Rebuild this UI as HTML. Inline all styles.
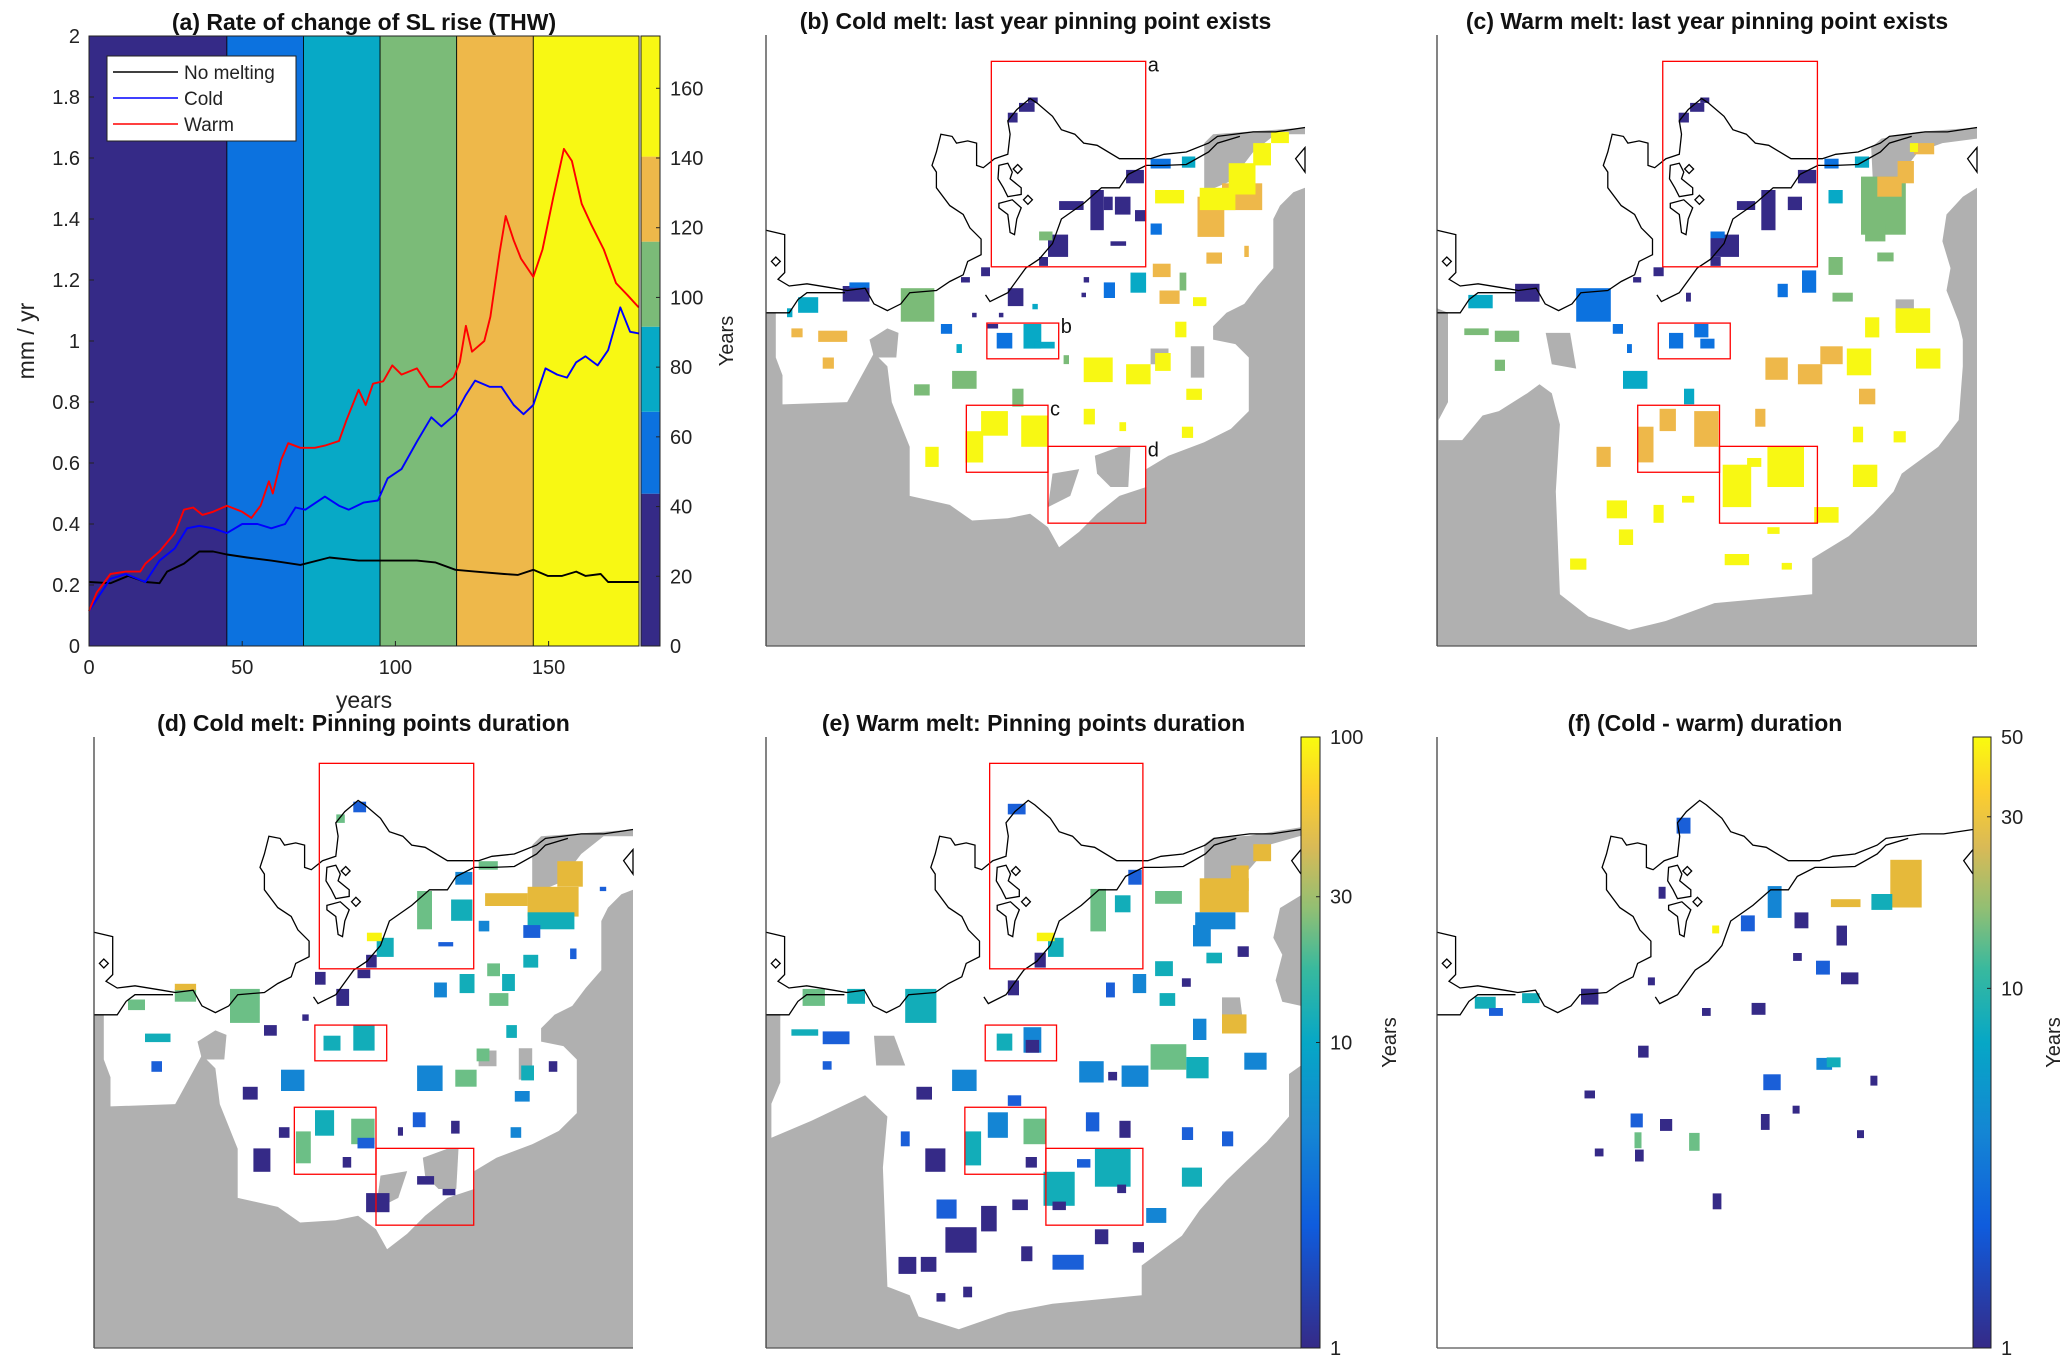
<!DOCTYPE html>
<html><head><meta charset="utf-8"><style>
html,body{margin:0;padding:0;background:#fff;}
svg{display:block;font-family:"Liberation Sans","DejaVu Sans",sans-serif;}
</style></head><body>
<svg id="fig" width="2067" height="1367" viewBox="0 0 2067 1367" xmlns="http://www.w3.org/2000/svg"></svg>
<script>
// ---------- Panel (a) data ----------
const years = [0,2.5,7,12,16.7,18.4,23,28,31,34,37,40.5,45,50,53,56,58.7,60,62.7,65,69,73.7,77,81.6,84,88,90.3,92.7,96,99,102,107,111,115,119,121,123,125,129,131,134,136,138.6,141,145,148,151.5,155,157.6,160.8,164,168,172,175.8,179.4];
const warm = [0.115,0.175,0.236,0.244,0.244,0.27,0.31,0.37,0.447,0.454,0.43,0.44,0.46,0.44,0.42,0.46,0.54,0.50,0.61,0.665,0.65,0.65,0.657,0.672,0.74,0.84,0.79,0.86,0.868,0.92,0.89,0.91,0.85,0.85,0.88,0.93,1.05,0.965,1.0,1.08,1.29,1.41,1.33,1.27,1.21,1.30,1.47,1.63,1.59,1.45,1.38,1.30,1.19,1.15,1.11];
const coldYears = [0,7,12,18.4,23,28,32,36,40.5,45,50,55,59.5,64,67.4,70.6,77,81.6,84.8,89.6,94.3,97.5,102,107,111.7,115,119.6,122.8,126,130.7,134.6,138.6,141.8,145,149,152.8,156,159,162,166,169.4,173.4,176.6,179.4];
const cold = [0.115,0.22,0.236,0.21,0.28,0.32,0.386,0.394,0.386,0.37,0.40,0.40,0.386,0.40,0.454,0.447,0.49,0.46,0.447,0.47,0.477,0.55,0.58,0.67,0.75,0.72,0.76,0.82,0.87,0.85,0.85,0.79,0.76,0.79,0.91,0.89,0.88,0.93,0.95,0.92,0.97,1.11,1.03,1.025];
const noMeltYears = [0,7,12.8,18.4,23,25.5,31,36,40.5,45,51.6,59.5,69,78.5,88,97.5,107,113,119.6,126,135.5,140,145,149.7,154.4,159,162,167,169.4,175,179.4];
const noMelt = [0.21,0.206,0.23,0.21,0.206,0.244,0.27,0.31,0.31,0.30,0.29,0.28,0.266,0.29,0.28,0.28,0.28,0.274,0.25,0.244,0.236,0.233,0.25,0.23,0.23,0.244,0.23,0.236,0.21,0.21,0.21];
const periodEdges = [0,45,70,95,120,145,179.5];
const periodColors = ["#352a87","#0c72df","#07a9c6","#7bbb78","#eeb84a","#f8f813"];
const yTicks = [0,0.2,0.4,0.6,0.8,1,1.2,1.4,1.6,1.8,2];
const yTickLabels = ["0","0.2","0.4","0.6","0.8","1","1.2","1.4","1.6","1.8","2"];
const xTicks = [0,50,100,150];
const cbTicks = [0,20,40,60,80,100,120,140,160];
const cbEdges = [0,43.7,67.2,91.6,116,140.4,175];

const NS="http://www.w3.org/2000/svg";
const svg=document.getElementById('fig');
function el(tag,attrs,parent){const e=document.createElementNS(NS,tag);for(const k in attrs)e.setAttribute(k,attrs[k]);(parent||svg).appendChild(e);return e;}
function txt(s,attrs,parent){const t=el('text',attrs,parent);t.textContent=s;return t;}

const AX={l:89,r:639,t:36,b:646,xmax:179.5,ymax:2};
const xA=v=>AX.l+(v/AX.xmax)*(AX.r-AX.l);
const yA=v=>AX.b-(v/AX.ymax)*(AX.b-AX.t);

const ga=el('g',{});


for(let i=0;i<periodColors.length;i++){
  const r=el('rect',{x:xA(periodEdges[i]),y:AX.t,width:xA(periodEdges[i+1])-xA(periodEdges[i]),height:AX.b-AX.t,fill:periodColors[i],stroke:'#000','stroke-width':0.8},ga);
  
  
}
function line(xs,ys,color,name){
  const p=xs.map((x,i)=>xA(x).toFixed(1)+','+yA(ys[i]).toFixed(1)).join(' ');
  const pl=el('polyline',{points:p,fill:'none',stroke:color,'stroke-width':1.9,'stroke-linejoin':'round'},ga);
  
  
}
line(noMeltYears,noMelt,'#000','line-no-melting');
line(coldYears,cold,'#0000ff','line-cold');
line(years,warm,'#ff0000','line-warm');
el('rect',{x:AX.l,y:AX.t,width:AX.r-AX.l,height:AX.b-AX.t,fill:'none',stroke:'#222','stroke-width':1},ga);
yTicks.forEach((v,i)=>{
  el('line',{x1:AX.l,x2:AX.l+5,y1:yA(v),y2:yA(v),stroke:'#222'},ga);
  const t=txt(yTickLabels[i],{x:AX.l-9,y:yA(v)+7,'font-size':20,'text-anchor':'end',fill:'#222'},ga);
  
  
});
xTicks.forEach(v=>{
  el('line',{x1:xA(v),x2:xA(v),y1:AX.b,y2:AX.b-5,stroke:'#222'},ga);
  const t=txt(String(v),{x:xA(v),y:AX.b+28,'font-size':20,'text-anchor':'middle',fill:'#222'},ga);
  
  
});
let t1=txt('years',{x:(AX.l+AX.r)/2,y:708,'font-size':23,'text-anchor':'middle',fill:'#222'},ga);


t1=txt('mm / yr',{x:0,y:0,'font-size':23,'text-anchor':'middle',fill:'#222',transform:'translate(34,341) rotate(-90)'},ga);


t1=txt('(a) Rate of change of SL rise (THW)',{x:(AX.l+AX.r)/2,y:30,'font-size':23,'font-weight':'bold','text-anchor':'middle',fill:'#111'},ga);


const lg=el('g',{},ga);


el('rect',{x:107,y:56,width:189,height:85,fill:'#fff',stroke:'#222','stroke-width':1},lg);
[['No melting','#000'],['Cold','#0000ff'],['Warm','#ff0000']].forEach((e,i)=>{
  const yy=72+i*26;
  el('line',{x1:113,x2:178,y1:yy,y2:yy,stroke:e[1],'stroke-width':1.5},lg);
  const t=txt(e[0],{x:184,y:yy+7,'font-size':19,fill:'#222'},lg);
  
  
});
const CB={l:641,r:660,t:36,b:646,max:175};
const yCB=v=>CB.b-(v/CB.max)*(CB.b-CB.t);
for(let i=0;i<periodColors.length;i++){
  el('rect',{x:CB.l,y:yCB(cbEdges[i+1]),width:CB.r-CB.l,height:yCB(cbEdges[i])-yCB(cbEdges[i+1]),fill:periodColors[i]},ga);
}
el('rect',{x:CB.l,y:CB.t,width:CB.r-CB.l,height:CB.b-CB.t,fill:'none',stroke:'#222'},ga);
cbTicks.forEach(v=>{
  el('line',{x1:CB.r-4,x2:CB.r,y1:yCB(v),y2:yCB(v),stroke:'#222'},ga);
  const t=txt(String(v),{x:CB.r+10,y:yCB(v)+7,'font-size':20,fill:'#222'},ga);
  
  
});
t1=txt('Years',{x:0,y:0,'font-size':20,'text-anchor':'middle',fill:'#222',transform:'translate(733,341) rotate(-90)'},ga);



// ---------- Maps ----------
const GRAY='#b0b0b0';
const catColors=["#352a87","#0c72df","#07a9c6","#7bbb78","#eeb84a","#f8f813"];
const parCols=["#352a87","#1a5fd8","#1485d4","#12adb9","#6cbf86","#e6b93a","#f9f40f"];
const F2=[58,78,1266,1446], F3=[18,78,1345,1446], F4=[58,88,1257,1524], F9=[80,88,1348,1524], FN=[0,0,1000,1000];
const coast=[[58,515],[100,525],[100,610],[85,625],[110,640],[150,635],[210,645],[240,650],[280,645],[300,680],[330,695],[360,680],[380,655],[440,650],[470,630],[500,615],[510,585],[540,570],[540,535],[515,510],[500,480],[470,460],[440,420],[440,385],[430,370],[440,340],[450,300],[475,305],[485,320],[510,315],[530,320],[530,370],[545,375],[570,355],[600,345],[605,300],[600,270],[620,245],[650,220],[665,230],[700,260],[720,290],[750,300],[770,320],[800,325],[850,355],[920,355],[950,345],[1000,340],[1050,320],[1070,305],[1150,295],[1200,295],[1266,285]];
const grounding=[[58,700],[110,700],[130,670],[150,655],[200,655],[235,655]];
const grounding2=[[550,660],[560,675],[600,655],[640,600],[670,580],[700,545],[720,490],[770,455],[810,420],[850,420],[870,390],[910,370],[950,370],[1000,368],[1050,340],[1070,320],[1120,305]];
const islands=[[[580,370],[600,365],[610,385],[605,400],[630,420],[630,435],[600,440],[590,420],[578,400]],[[580,455],[610,447],[630,465],[620,490],[615,525],[605,520],[600,480],[580,465]],[[612,378],[622,368],[632,378],[622,388]],[[635,447],[645,437],[655,447],[645,457]],[[70,585],[80,575],[90,585],[80,595]],[[1266,330],[1245,355],[1266,385]]];
const whiteB=[[58,78],[1266,78],[1266,285],[1200,290],[1060,300],[1040,320],[1040,430],[1100,405],[1150,340],[1200,300],[1266,300],[1266,420],[1240,430],[1210,460],[1195,490],[1195,600],[1160,640],[1130,680],[1090,700],[1060,730],[1060,760],[1110,770],[1140,800],[1140,920],[1100,960],[1040,990],[960,1020],[910,1050],[910,1090],[850,1110],[800,1150],[760,1190],[715,1225],[690,1180],[650,1150],[600,1160],[520,1165],[470,1130],[380,1110],[380,1000],[340,900],[330,820],[300,790],[240,900],[95,905],[95,840],[80,800],[80,700],[58,700]];
const grayB=[[[920,780],[960,780],[960,815],[920,815]],[[1010,775],[1040,775],[1040,845],[1010,845]],[[700,1060],[760,1050],[740,1110],[690,1135]],[[795,1020],[850,1000],[875,1000],[870,1090],[830,1090],[800,1060]],[[290,760],[330,735],[355,745],[350,800],[300,800]]];
const whiteC=[[18,78],[1345,78],[1345,285],[1200,295],[1110,310],[1085,330],[1090,420],[1150,400],[1200,340],[1260,320],[1345,310],[1345,420],[1310,440],[1270,480],[1260,540],[1280,600],[1270,650],[1300,720],[1310,760],[1310,820],[1300,940],[1250,1000],[1160,1060],[1140,1100],[1090,1150],[1030,1200],[940,1250],[940,1330],[700,1350],[580,1390],[490,1410],[390,1380],[320,1330],[310,1100],[320,950],[300,880],[270,860],[240,880],[170,920],[130,930],[80,985],[22,985],[22,940],[45,900],[45,700],[18,690]];
const grayC=[[[285,745],[345,745],[360,825],[300,815]],[[1145,670],[1190,670],[1190,735],[1145,735]]];
const whiteE=[[58,88],[1257,88],[1257,300],[1140,320],[1060,325],[1040,340],[1040,470],[1090,450],[1140,400],[1190,340],[1257,320],[1257,460],[1210,490],[1195,560],[1215,600],[1200,660],[1215,710],[1257,720],[1257,860],[1230,880],[1230,980],[1180,1040],[1130,1090],[1090,1130],[1030,1200],[990,1260],[900,1330],[900,1400],[700,1420],[600,1440],[490,1480],[400,1450],[380,1400],[330,1380],[320,1100],[330,980],[280,930],[220,960],[160,990],[70,1030],[70,950],[90,900],[90,740],[58,740]];
const grayE=[[[300,790],[345,790],[370,860],[305,860]],[[1080,700],[1120,700],[1130,780],[1080,780]]];
const boxes=[[563,137,909,597],[553,723,714,803],[507,907,690,1057],[690,999,909,1171]];
const patchesB=[[600,252,22,22,0],[625,230,35,20,0],[645,218,22,12,0],[865,380,40,30,0],[715,450,55,20,0],[785,425,30,90,0],[815,440,20,30,0],[840,440,35,40,0],[885,470,25,25,0],[830,540,35,10,0],[690,525,45,50,0],[670,575,20,20,0],[600,645,35,40,0],[540,598,20,20,0],[495,620,20,12,0],[230,640,60,35,0],[770,620,12,12,0],[765,655,10,10,0],[520,700,10,10,0],[580,700,10,10,0],[553,725,25,10,0],[920,500,25,25,1],[815,632,25,35,1],[450,725,25,22,1],[575,745,35,35,1],[920,355,45,22,1],[245,632,45,12,1],[875,610,35,45,2],[635,725,40,55,2],[660,765,45,15,2],[485,770,12,20,2],[990,350,30,25,2],[130,665,45,35,2],[655,680,12,12,2],[105,690,12,20,2],[475,830,55,40,3],[390,860,35,25,3],[360,645,75,75,3],[985,610,15,40,3],[610,870,25,40,3],[725,795,12,20,3],[670,518,30,20,3],[185,800,25,25,4],[115,735,25,20,4],[175,740,65,25,4],[1025,440,60,90,4],[1080,410,90,60,4],[1045,565,35,25,4],[940,650,45,30,4],[925,590,40,30,4],[1130,550,10,25,4],[930,425,65,30,5],[1030,420,80,50,5],[1095,365,60,70,5],[1150,320,40,50,5],[1190,295,40,25,5],[770,800,65,55,5],[865,815,55,45,5],[930,790,35,40,5],[975,720,25,35,5],[1000,870,35,25,5],[770,915,25,35,5],[505,965,40,70,5],[540,920,60,55,5],[630,930,60,70,5],[415,1000,30,45,5],[990,955,25,25,5],[850,945,15,20,5],[1015,665,30,20,5]];
const patchesC=[[612,252,25,22,0],[640,230,35,20,0],[665,218,22,12,0],[905,380,45,30,0],[755,450,45,20,0],[815,425,35,90,0],[880,440,35,30,0],[690,525,70,50,0],[690,575,25,20,0],[550,598,25,20,0],[500,620,20,12,0],[210,635,60,40,0],[630,655,12,20,0],[915,605,35,50,1],[855,635,25,30,1],[450,725,25,22,1],[588,745,35,35,1],[650,725,35,30,1],[665,758,35,22,1],[360,645,85,75,1],[485,770,12,20,1],[970,355,35,22,1],[690,518,35,15,1],[475,830,60,40,2],[980,425,35,30,2],[1045,350,35,25,2],[95,660,60,30,2],[625,870,25,35,2],[1060,395,110,130,3],[1070,500,50,40,3],[980,575,35,40,3],[1100,565,40,20,3],[990,655,50,20,3],[160,740,60,25,3],[85,735,60,15,3],[160,805,25,25,3],[1100,395,60,45,4],[1150,360,40,50,4],[1190,320,50,25,4],[1180,320,20,20,5],[825,800,55,50,4],[905,815,60,45,4],[960,775,55,40,4],[1055,870,40,35,4],[565,915,40,50,4],[650,920,60,80,4],[510,955,40,80,4],[410,1000,35,45,4],[800,915,25,40,4],[1070,710,35,45,5],[1145,690,85,55,5],[1195,780,60,45,5],[1025,780,60,60,5],[1040,955,25,35,5],[1140,965,30,25,5],[720,1040,70,95,5],[780,1025,35,20,5],[830,1000,90,90,5],[945,1135,60,35,5],[435,1120,50,40,5],[550,1130,25,40,5],[465,1185,35,35,5],[725,1240,60,25,5],[345,1250,40,25,5],[1040,1040,60,50,5],[620,1110,30,15,5],[830,1180,30,15,5],[865,1260,25,15,5]];
const patchesD=[[1100,440,120,70,5],[1000,455,100,30,5],[1100,500,110,40,3],[1090,530,40,30,1],[1170,380,60,60,5],[840,450,35,90,4],[920,470,50,50,3],[745,560,40,45,3],[720,600,25,30,0],[520,870,55,50,2],[840,860,60,60,2],[930,870,50,40,4],[555,1015,35,75,4],[600,965,45,60,3],[685,985,55,60,4],[700,1030,40,25,1],[455,1055,40,55,0],[665,1075,20,25,0],[720,1160,55,45,0],[690,765,50,60,3],[620,790,40,35,3],[880,665,30,35,2],[940,645,35,45,3],[1040,645,30,40,3],[1010,690,45,30,4],[1050,765,25,30,3],[1150,850,20,25,0],[1070,920,35,25,2],[1060,1005,25,25,2],[830,970,30,35,1],[400,680,70,80,4],[270,680,50,30,4],[160,705,40,25,4],[200,785,60,20,3],[215,850,25,25,1],[430,910,35,30,0],[480,765,30,25,0],[600,640,25,30,0],[650,680,30,40,0],[700,635,30,20,0],[840,1120,40,20,0],[900,1150,30,15,0],[920,990,20,30,0],[795,1005,12,20,0],[985,520,25,25,2],[1090,600,35,30,3],[1005,620,30,30,4],[1270,440,15,10,1],[1200,585,15,25,1],[980,820,30,30,4],[1085,860,30,35,3],[515,1005,25,25,0],[570,740,15,15,0],[890,570,35,10,1],[930,405,40,30,2],[650,270,20,20,4],[690,240,30,25,1],[722,548,35,20,6],[985,380,45,20,4],[270,668,50,15,5]];
const patchesE=[[1030,420,110,80,5],[1020,500,90,40,2],[1100,390,40,60,5],[1150,340,40,40,5],[1015,530,40,50,2],[930,450,60,30,4],[785,445,35,100,4],[840,460,35,40,3],[690,560,35,45,3],[660,595,25,35,0],[370,680,70,80,3],[240,680,40,35,3],[140,680,50,40,4],[185,780,60,30,1],[115,775,60,15,3],[185,850,20,20,1],[475,870,55,50,2],[395,910,35,30,0],[575,785,35,40,3],[635,770,40,60,2],[640,800,30,30,0],[760,850,55,50,2],[855,860,60,50,2],[920,810,80,60,4],[1000,840,50,50,3],[1080,740,55,45,5],[1015,750,30,50,2],[1130,830,50,40,2],[555,970,45,60,2],[635,985,50,60,4],[505,1015,35,80,3],[415,1055,45,55,0],[775,970,30,45,1],[850,990,25,40,0],[680,1110,70,80,3],[700,1180,30,20,0],[795,1055,80,90,3],[845,1140,20,20,0],[755,1080,30,20,1],[910,1195,45,35,2],[990,1100,45,45,3],[1080,1015,25,35,1],[990,1005,25,30,1],[440,1175,45,45,1],[460,1240,70,60,0],[540,1190,35,60,0],[610,1175,35,25,0],[630,1285,25,35,0],[700,1305,70,35,1],[355,1310,40,40,0],[405,1310,35,35,0],[795,1245,30,35,0],[825,875,20,20,0],[600,660,25,35,0],[820,665,20,35,1],[880,645,30,45,2],[930,615,40,35,3],[940,690,35,30,3],[990,655,20,20,0],[1045,595,35,25,3],[1115,580,25,25,0],[640,1075,25,25,0],[600,930,30,25,1],[360,1015,20,35,1],[500,1380,20,25,0],[440,1395,20,20,0],[600,245,40,25,1],[665,548,40,20,6],[870,400,30,35,1],[880,1275,25,25,0]];
const patchesF=[[830,180,90,120,5],[800,250,60,40,3],[720,262,85,20,5],[660,280,40,40,0],[740,300,30,50,0],[510,305,20,20,6],[560,285,40,40,1],[60,420,60,30,3],[90,440,40,20,1],[150,415,50,25,3],[260,405,50,40,0],[390,390,20,20,0],[490,440,25,20,0],[580,430,40,30,0],[700,520,45,30,2],[370,500,30,30,0],[270,575,30,20,0],[355,610,35,35,1],[365,640,20,40,4],[410,620,35,30,0],[465,640,30,45,4],[600,610,25,40,0],[660,600,20,20,0],[290,670,25,20,0],[365,670,25,30,0],[510,740,25,40,0],[780,640,20,20,0],[805,550,20,25,0],[440,125,40,40,1],[410,240,20,30,0],[610,230,40,80,2],[745,380,50,30,0],[660,350,25,20,0],[700,360,40,35,1],[600,545,50,40,1],[720,520,40,25,3]];

function mapTf(frame,src){return (x,y)=>[frame.x+(x-src[0])/(src[2]-src[0])*frame.w, frame.y+(y-src[1])/(src[3]-src[1])*frame.h];}
function polyStr(pts,tf){return pts.map(p=>{const q=tf(p[0],p[1]);return q[0].toFixed(1)+','+q[1].toFixed(1);}).join(' ');}

function drawMap(name,frame,o){
  const g=el('g',{});
  
  
  el('rect',{x:frame.x,y:frame.y,width:frame.w,height:frame.h,fill:o.white?GRAY:'#fff'},g);
  if(o.white){
    const tw=mapTf(frame,o.white.src);
    el('polygon',{points:polyStr(o.white.pts,tw),fill:'#fff'},g);
    o.white.gray.forEach(gp=>el('polygon',{points:polyStr(gp,tw),fill:GRAY},g));
  }
  const tp=mapTf(frame,o.patchSrc);
  const sc=o.scale||1;
  o.patches.forEach(p=>{
    const cx=p[0]+p[2]/2, cy=p[1]+p[3]/2, w=p[2]*sc, h=p[3]*sc;
    const a=tp(cx-w/2,cy-h/2),b=tp(cx+w/2,cy+h/2);
    const r=el('rect',{x:a[0].toFixed(1),y:a[1].toFixed(1),width:(b[0]-a[0]).toFixed(1),height:(b[1]-a[1]).toFixed(1),fill:o.cols[p[4]]},g);
    
    
  });
  const tc=mapTf(frame,F2);
  [coast,grounding,grounding2].forEach(c=>el('polyline',{points:polyStr(c,tc),fill:'none',stroke:'#000','stroke-width':1.3},g));
  islands.forEach(c=>el('polygon',{points:polyStr(c,tc),fill:'#fff',stroke:'#000','stroke-width':1.3},g));
  if(o.boxes){
    boxes.forEach((b,i)=>{
      const a=tc(b[0],b[1]),c=tc(b[2],b[3]);
      const r=el('rect',{x:a[0],y:a[1],width:c[0]-a[0],height:c[1]-a[1],fill:'none',stroke:'#ff0000','stroke-width':1.3},g);
      
      
      if(o.labels){
        const t=txt('abcd'[i],{x:c[0]+2,y:a[1]+10,'font-size':20,fill:'#111'},g);
        
        
      }
    });
  }
  el('line',{x1:frame.x,x2:frame.x,y1:frame.y,y2:frame.y+frame.h,stroke:'#333','stroke-width':1.2},g);
  el('line',{x1:frame.x,x2:frame.x+frame.w,y1:frame.y+frame.h,y2:frame.y+frame.h,stroke:'#555','stroke-width':1.2},g);
  const t=txt(o.title,{x:frame.x+frame.w/2,y:frame.y-6,'font-size':23,'font-weight':'bold','text-anchor':'middle',fill:'#111'},g);
  
  
}
drawMap('panel-b',{x:766,y:35,w:539,h:611},{white:{src:F2,pts:whiteB,gray:grayB},patchSrc:F2,patches:patchesB,cols:catColors,boxes:true,labels:true,title:'(b) Cold melt: last year pinning point exists'});
drawMap('panel-c',{x:1437,y:35,w:540,h:611},{white:{src:F3,pts:whiteC,gray:grayC},patchSrc:F3,patches:patchesC,cols:catColors,boxes:true,labels:false,title:'(c) Warm melt: last year pinning point exists'});
drawMap('panel-d',{x:94,y:737,w:539,h:611},{white:{src:F2,pts:whiteB,gray:grayB},patchSrc:F9,patches:patchesD,cols:parCols,boxes:true,labels:false,title:'(d) Cold melt: Pinning points duration'});
drawMap('panel-e',{x:766,y:737,w:535,h:611},{white:{src:F4,pts:whiteE,gray:grayE},patchSrc:F4,patches:patchesE,cols:parCols,boxes:true,labels:false,title:'(e) Warm melt: Pinning points duration'});
drawMap('panel-f',{x:1437,y:737,w:536,h:611},{white:null,patchSrc:FN,patches:patchesF,cols:parCols,boxes:false,labels:false,scale:0.65,title:'(f) (Cold - warm) duration'});

const defs=el('defs',{});
const grad=el('linearGradient',{id:'parula',x1:0,y1:1,x2:0,y2:0},defs);
[["0","#352a87"],["0.2","#0f5cdd"],["0.35","#1485d4"],["0.5","#06a7c6"],["0.62","#38b99e"],["0.72","#92bf73"],["0.82","#d9ba56"],["0.91","#fcce2e"],["1","#f9fb0e"]].forEach(s=>el('stop',{offset:s[0],'stop-color':s[1]},grad));
const eTicks=[1,10,30,100], fTicks=[1,10,30,50];
function logBar(name,x,w,top,bot,maxV,ticks,titleX){
  const g=el('g',{});
  
  
  el('rect',{x:x,y:top,width:w,height:bot-top,fill:'url(#parula)',stroke:'#222','stroke-width':1},g);
  const yv=v=>bot-Math.log10(v)/Math.log10(maxV)*(bot-top);
  ticks.forEach(v=>{
    el('line',{x1:x+w-4,x2:x+w,y1:yv(v),y2:yv(v),stroke:'#222'},g);
    const t=txt(String(v),{x:x+w+10,y:yv(v)+7,'font-size':20,fill:'#222'},g);
    
    
  });
  const t=txt('Years',{x:0,y:0,'font-size':20,'text-anchor':'middle',fill:'#222',transform:'translate('+titleX+','+((top+bot)/2)+') rotate(-90)'},g);
  
  
}
logBar('colorbar-e',1301,19,737,1348,100,eTicks,1396);
logBar('colorbar-f',1973,18,737,1348,50,fTicks,2060);
</script>
</body></html>
